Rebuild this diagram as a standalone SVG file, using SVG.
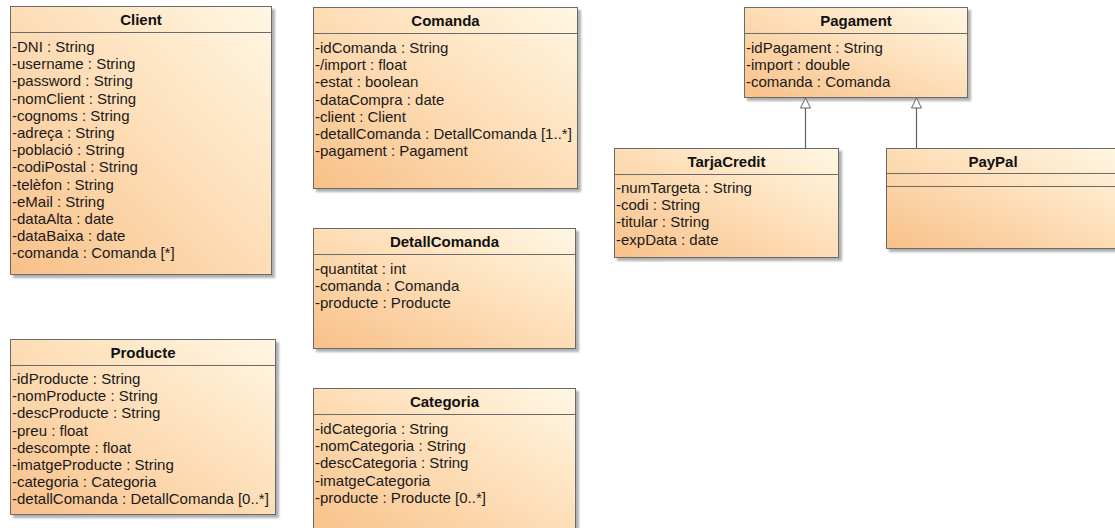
<svg xmlns="http://www.w3.org/2000/svg" width="1115" height="528" viewBox="0 0 1115 528">
<defs>
<linearGradient id="g" x1="0" y1="1" x2="1" y2="0">
<stop offset="0" stop-color="#F8C088"/>
<stop offset="0.5" stop-color="#FDDDB6"/>
<stop offset="1" stop-color="#FFF7E4"/>
</linearGradient>
<filter id="sh" x="-5%" y="-5%" width="115%" height="115%">
<feDropShadow dx="3" dy="3" stdDeviation="1.2" flood-color="#7a7a7a" flood-opacity="0.6"/>
</filter>
<marker id="gen" markerWidth="12" markerHeight="12" refX="11" refY="6" orient="auto" markerUnits="userSpaceOnUse">
<path d="M1,1 L11,6 L1,11 Z" fill="#ffffff" stroke="#606060" stroke-width="1"/>
</marker>
</defs>
<style>
.box{fill:url(#g);stroke:#6a6a6a;stroke-width:1;filter:url(#sh)}
.div{stroke:#6a6a6a;stroke-width:1}
.t{font-family:"Liberation Sans",Arial,sans-serif;font-size:15px;font-weight:bold;fill:#111;text-anchor:middle}
.a{font-family:"Liberation Sans",Arial,sans-serif;font-size:15px;fill:#1a1a1a}
.c{stroke:#606060;stroke-width:1.2;fill:none}
</style>
<rect width="1115" height="528" fill="#ffffff"/>

<g id="Client">
<rect class="box" x="10.5" y="6.5" width="261" height="268"/>
<line class="div" x1="10.5" y1="32.5" x2="271.5" y2="32.5"/>
<text class="t" x="141" y="25">Client</text>
<text class="a" x="12" y="52">
<tspan x="12">-DNI : String</tspan>
<tspan x="12" dy="17.2">-username : String</tspan>
<tspan x="12" dy="17.2">-password : String</tspan>
<tspan x="12" dy="17.2">-nomClient : String</tspan>
<tspan x="12" dy="17.2">-cognoms : String</tspan>
<tspan x="12" dy="17.2">-adreça : String</tspan>
<tspan x="12" dy="17.2">-població : String</tspan>
<tspan x="12" dy="17.2">-codiPostal : String</tspan>
<tspan x="12" dy="17.2">-telèfon : String</tspan>
<tspan x="12" dy="17.2">-eMail : String</tspan>
<tspan x="12" dy="17.2">-dataAlta : date</tspan>
<tspan x="12" dy="17.2">-dataBaixa : date</tspan>
<tspan x="12" dy="17.2">-comanda : Comanda [*]</tspan>
</text>
</g>

<g id="Comanda">
<rect class="box" x="313.5" y="7.5" width="264" height="181"/>
<line class="div" x1="313.5" y1="33.5" x2="577.5" y2="33.5"/>
<text class="t" x="445.5" y="26">Comanda</text>
<text class="a" x="315" y="53">
<tspan x="315">-idComanda : String</tspan>
<tspan x="315" dy="17.2">-/import : float</tspan>
<tspan x="315" dy="17.2">-estat : boolean</tspan>
<tspan x="315" dy="17.2">-dataCompra : date</tspan>
<tspan x="315" dy="17.2">-client : Client</tspan>
<tspan x="315" dy="17.2">-detallComanda : DetallComanda [1..*]</tspan>
<tspan x="315" dy="17.2">-pagament : Pagament</tspan>
</text>
</g>

<g id="DetallComanda">
<rect class="box" x="313.5" y="228.5" width="262" height="120"/>
<line class="div" x1="313.5" y1="254.5" x2="575.5" y2="254.5"/>
<text class="t" x="444.5" y="247">DetallComanda</text>
<text class="a" x="315" y="274">
<tspan x="315">-quantitat : int</tspan>
<tspan x="315" dy="17.2">-comanda : Comanda</tspan>
<tspan x="315" dy="17.2">-producte : Producte</tspan>
</text>
</g>

<g id="Producte">
<rect class="box" x="10.5" y="339.5" width="265" height="175"/>
<line class="div" x1="10.5" y1="365.5" x2="275.5" y2="365.5"/>
<text class="t" x="143" y="358">Producte</text>
<text class="a" x="12" y="384">
<tspan x="12">-idProducte : String</tspan>
<tspan x="12" dy="17.2">-nomProducte : String</tspan>
<tspan x="12" dy="17.2">-descProducte : String</tspan>
<tspan x="12" dy="17.2">-preu : float</tspan>
<tspan x="12" dy="17.2">-descompte : float</tspan>
<tspan x="12" dy="17.2">-imatgeProducte : String</tspan>
<tspan x="12" dy="17.2">-categoria : Categoria</tspan>
<tspan x="12" dy="17.2">-detallComanda : DetallComanda [0..*]</tspan>
</text>
</g>

<g id="Categoria">
<rect class="box" x="313.5" y="388.5" width="262" height="150"/>
<line class="div" x1="313.5" y1="414.5" x2="575.5" y2="414.5"/>
<text class="t" x="444.5" y="407">Categoria</text>
<text class="a" x="315" y="434">
<tspan x="315">-idCategoria : String</tspan>
<tspan x="315" dy="17.2">-nomCategoria : String</tspan>
<tspan x="315" dy="17.2">-descCategoria : String</tspan>
<tspan x="315" dy="17.2">-imatgeCategoria</tspan>
<tspan x="315" dy="17.2">-producte : Producte [0..*]</tspan>
</text>
</g>

<g id="Pagament">
<rect class="box" x="744.5" y="7.5" width="223" height="90"/>
<line class="div" x1="744.5" y1="33.5" x2="967.5" y2="33.5"/>
<text class="t" x="856" y="26">Pagament</text>
<text class="a" x="746" y="53">
<tspan x="746">-idPagament : String</tspan>
<tspan x="746" dy="17.2">-import : double</tspan>
<tspan x="746" dy="17.2">-comanda : Comanda</tspan>
</text>
</g>

<g id="TarjaCredit">
<rect class="box" x="614.5" y="148.5" width="224" height="109"/>
<line class="div" x1="614.5" y1="174.5" x2="838.5" y2="174.5"/>
<text class="t" x="726.5" y="167">TarjaCredit</text>
<text class="a" x="616" y="193">
<tspan x="616">-numTargeta : String</tspan>
<tspan x="616" dy="17.2">-codi : String</tspan>
<tspan x="616" dy="17.2">-titular : String</tspan>
<tspan x="616" dy="17.2">-expData : date</tspan>
</text>
</g>

<g id="PayPal">
<rect class="box" x="886.5" y="148.5" width="240" height="100"/>
<line class="div" x1="886.5" y1="173.5" x2="1126" y2="173.5"/>
<line class="div" x1="886.5" y1="186.5" x2="1126" y2="186.5"/>
<text class="t" x="993" y="167">PayPal</text>
</g>

<g id="connectors">
<line class="c" x1="805.5" y1="148" x2="805.5" y2="98" marker-end="url(#gen)"/>
<line class="c" x1="916.5" y1="148" x2="916.5" y2="98" marker-end="url(#gen)"/>
</g>
</svg>
